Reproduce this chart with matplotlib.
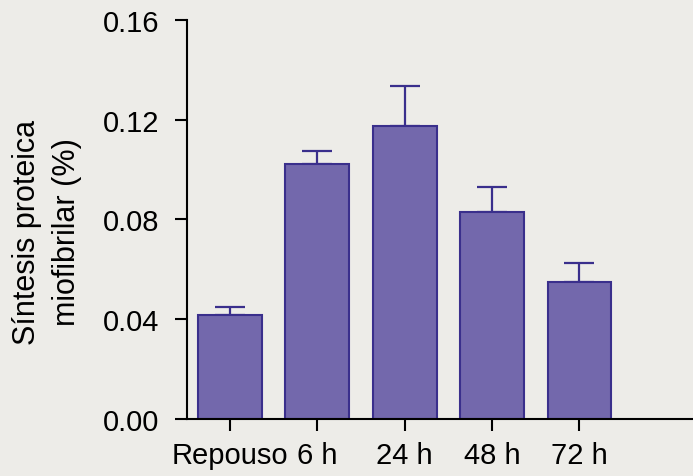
import numpy as np
import matplotlib
matplotlib.use("Agg")
import matplotlib.pyplot as plt

# Mean synthesis rate and upper error for each time point
labels = ["Repouso", "6 h", "24 h", "48 h", "72 h"]
means = [0.0417, 0.1023, 0.1176, 0.0830, 0.0547]
errors = [0.0032, 0.0050, 0.0157, 0.0098, 0.0080]
yticks = [0.00, 0.04, 0.08, 0.12, 0.16]

bg = "#edece8"
fill = "#7368ac"
edge = "#3a2f8c"

plt.rcParams["font.family"] = ["Liberation Sans", "DejaVu Sans"]

fig = plt.figure(figsize=(6.93, 4.77), dpi=100, facecolor=bg)
ax = fig.add_axes([0.2694, 0.1195, 0.7306, 0.8371], facecolor=bg)

x = np.arange(len(labels))
ax.bar(x, means, width=0.73, color=fill, edgecolor=edge, linewidth=1.5, zorder=2)
ax.errorbar(x, means, yerr=[np.zeros(len(errors)), errors], fmt="none",
            ecolor=edge, elinewidth=1.6, capsize=10.8, capthick=1.6, zorder=1)

ax.set_xlim(-0.496, 5.30)
ax.set_ylim(0, 0.16)
ax.set_yticks(yticks)
ax.set_yticklabels([f"{v:.2f}" for v in yticks])
ax.set_xticks(x)
ax.set_xticklabels(labels)

for side in ["top", "right"]:
    ax.spines[side].set_visible(False)
for side in ["left", "bottom"]:
    ax.spines[side].set_linewidth(1.5)
    ax.spines[side].set_color("black")

ax.tick_params(axis="y", length=8.4, width=1.5, pad=11, labelsize=21)
ax.tick_params(axis="x", length=8.4, width=1.5, pad=7.5, labelsize=21)

fig.text(47 / 693, 1 - 232 / 477, "Síntesis proteica\nmiofibrilar (%)",
         rotation=90, ha="center", va="center", multialignment="center",
         fontsize=22, linespacing=1.45)

fig.savefig("out.png", dpi=100, facecolor=bg)
